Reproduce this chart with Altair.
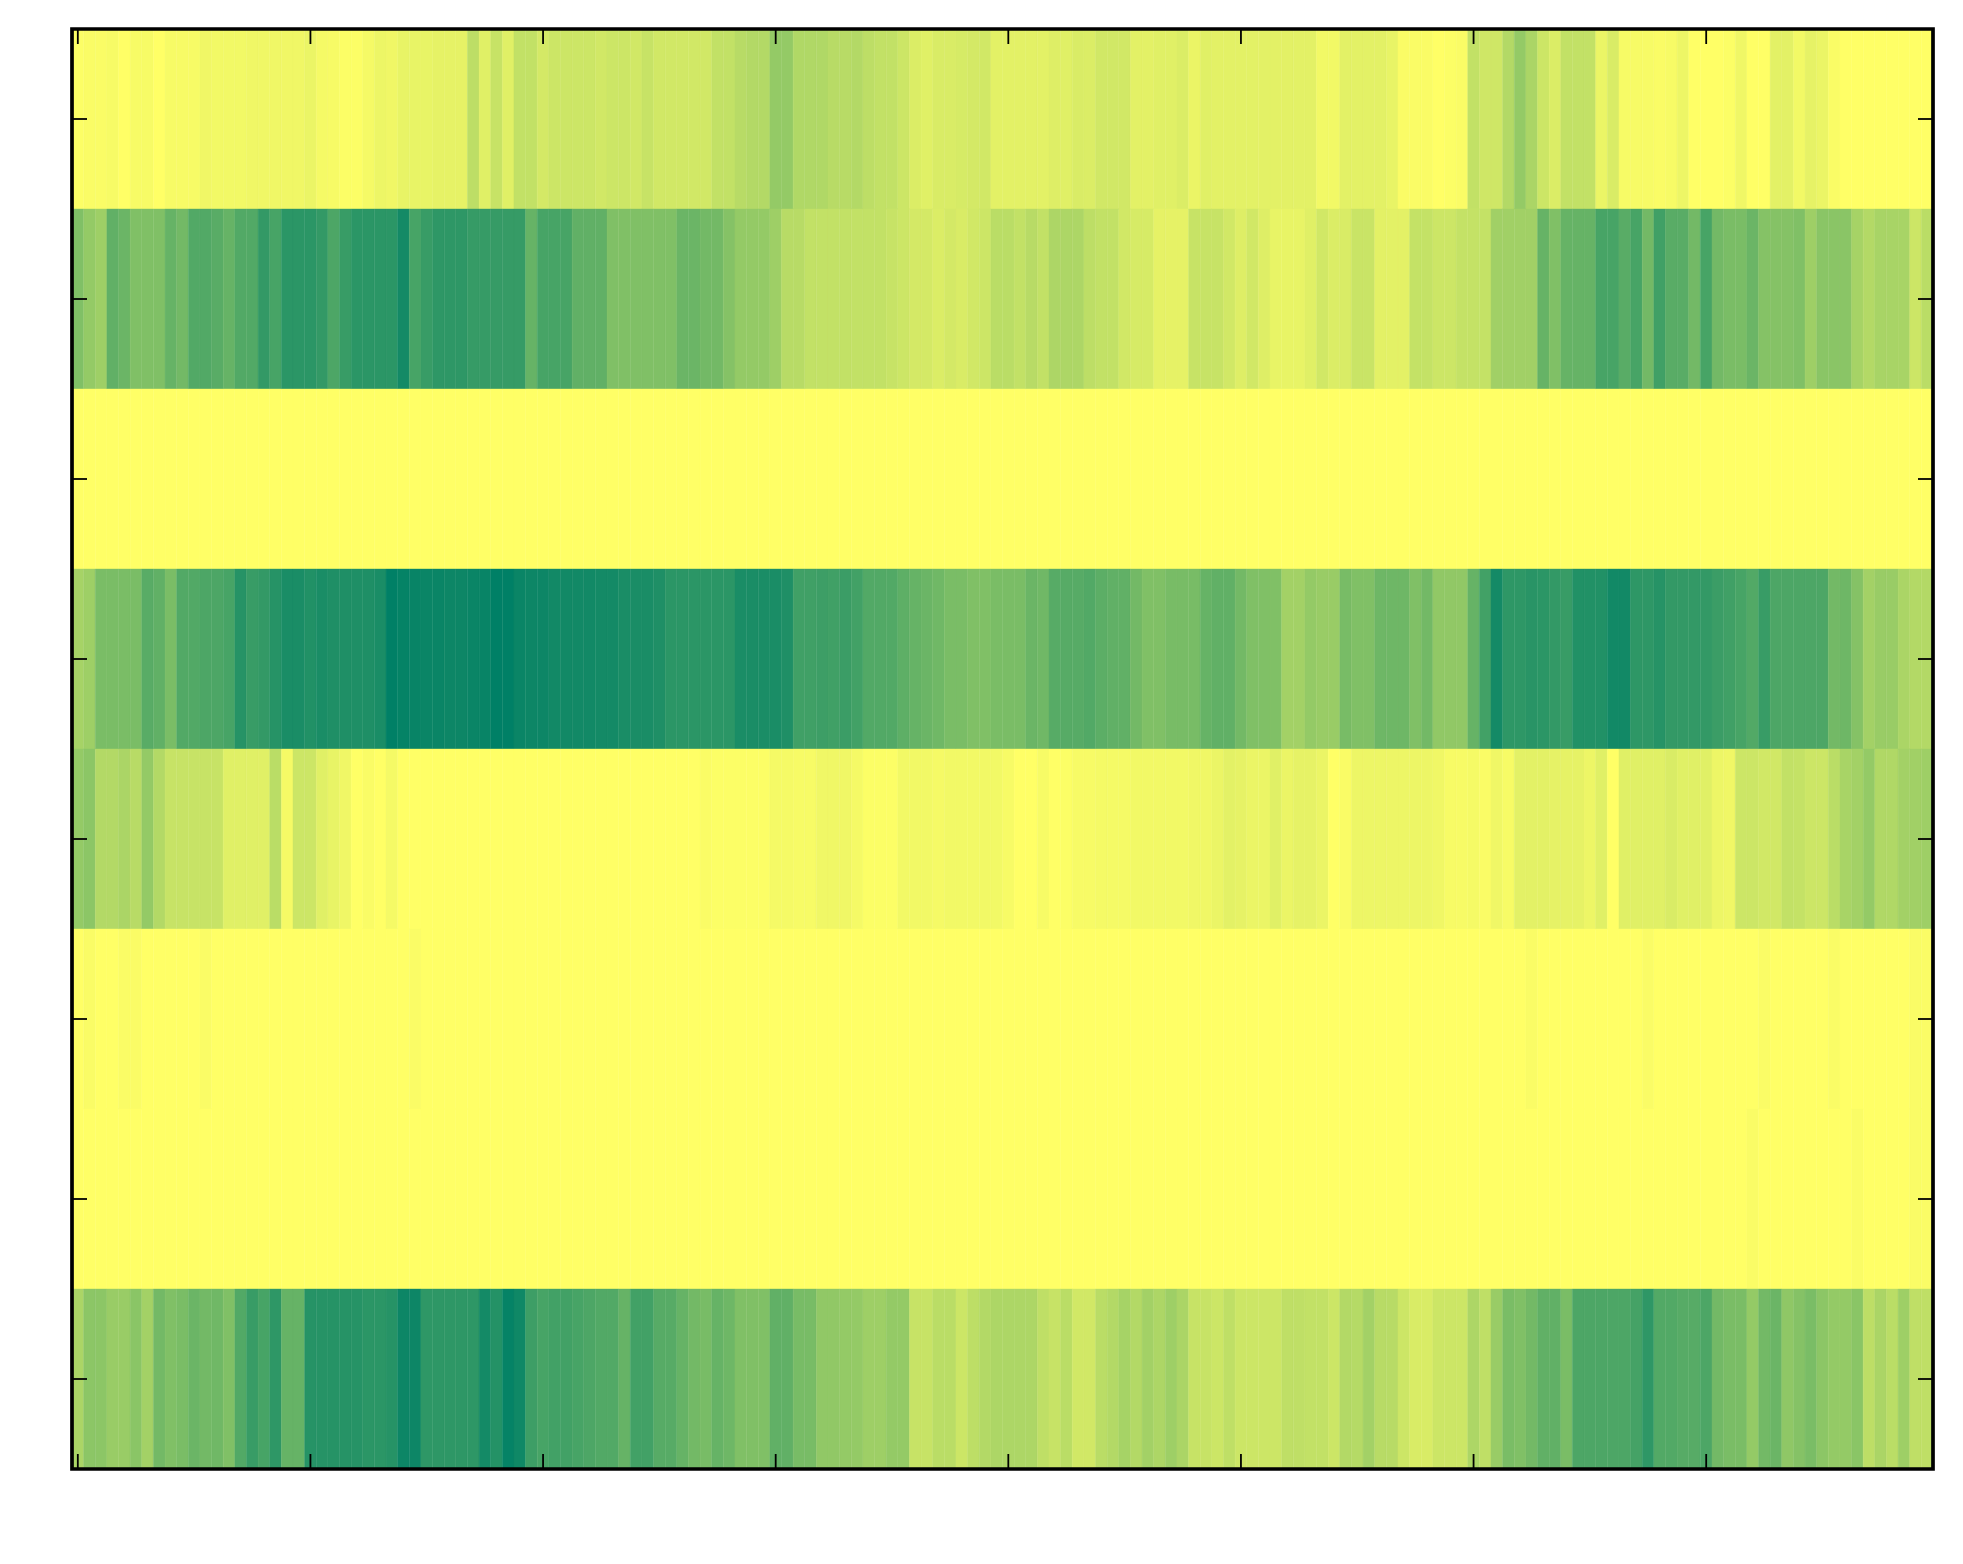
import altair as alt
import pandas as pd

W, H = 1861, 1440

row0 = [.01,.02,.02,.03,0,.03,.03,0,.03,.03,.03,.06,.05,.05,.05,.06,.06,.06,.06,.06,
        .08,.04,.03,.01,.01,.04,.07,.06,.09,.09,.09,.10,.10,.10,.26,.12,.22,.12,.24,.24,
        .17,.2,.2,.2,.2,.18,.2,.2,.18,.22,.18,.18,.18,.18,.18,.24,.24,.28,.3,.3,
        .42,.42,.31,.31,.31,.28,.28,.3,.26,.24,.24,.2,.14,.12,.15,.15,.16,.17,.18,.11,
        .11,.11,.11,.11,.13,.12,.15,.14,.18,.18,.18,.11,.11,.12,.12,.14,.08,.12,.11,.11,
        .11,.11,.11,.11,.11,.11,.11,.05,.05,.11,.11,.11,.11,.09,.02,.02,.02,0,.01,.02,
        .24,.19,.19,.3,.42,.33,.2,.14,.24,.24,.24,.08,.15,.03,.03,.03,.02,.03,.07,0,
        0,0,.01,.06,0,0,.11,.11,.05,.1,.08,.02,0,0,0,0,0,0,0,0]
row1 = [.5,.42,.38,.62,.58,.5,.5,.5,.6,.55,.68,.68,.65,.6,.68,.68,.8,.72,.83,.83,
        .83,.8,.7,.78,.83,.83,.83,.83,.92,.72,.78,.82,.82,.82,.79,.79,.79,.79,.79,.6,
        .72,.72,.72,.62,.62,.62,.5,.5,.5,.5,.5,.5,.58,.58,.55,.55,.48,.42,.42,.42,
        .38,.28,.28,.24,.24,.24,.24,.24,.24,.24,.22,.2,.17,.17,.14,.17,.15,.18,.2,.27,
        .27,.24,.28,.24,.32,.32,.32,.26,.24,.24,.18,.16,.16,.1,.1,.1,.22,.22,.22,.18,
        .13,.18,.13,.09,.09,.09,.12,.18,.14,.15,.21,.21,.11,.11,.11,.23,.23,.2,.2,.23,
        .23,.23,.37,.37,.37,.37,.6,.5,.6,.6,.6,.72,.72,.65,.72,.55,.75,.65,.65,.55,
        .72,.55,.52,.52,.58,.48,.48,.48,.5,.38,.46,.46,.46,.35,.3,.34,.34,.34,.2,.27]
row2 = [0] * 160
row3 = [.35,.38,.52,.52,.52,.52,.65,.62,.52,.68,.68,.7,.7,.72,.85,.78,.8,.85,.9,.9,
        .87,.9,.88,.88,.88,.88,.9,1,.98,.97,.96,.96,.95,.95,.96,.97,1,1,.96,.95,
        .95,.93,.93,.93,.93,.92,.92,.9,.9,.9,.88,.83,.83,.83,.83,.83,.83,.9,.9,.9,
        .9,.88,.75,.75,.76,.75,.77,.74,.68,.68,.68,.63,.6,.58,.56,.52,.52,.5,.5,.52,
        .52,.52,.58,.56,.66,.66,.66,.68,.64,.62,.62,.55,.5,.5,.53,.53,.53,.6,.62,.62,
        .55,.5,.5,.5,.36,.36,.42,.4,.4,.53,.5,.5,.57,.57,.57,.5,.55,.43,.43,.43,
        .6,.74,.92,.82,.82,.84,.83,.8,.78,.87,.87,.87,.93,.93,.82,.82,.85,.8,.8,.8,
        .8,.77,.75,.72,.68,.78,.7,.7,.7,.7,.7,.55,.57,.48,.36,.4,.4,.33,.3,.3]
row4 = [.42,.45,.3,.3,.33,.28,.42,.3,.22,.22,.22,.22,.22,.12,.12,.12,.12,.27,.04,.2,
        .2,.12,.09,.06,0,.02,0,.04,0,0,0,0,0,0,0,0,0,0,0,0,
        0,0,0,0,0,0,0,0,0,0,0,0,0,0,.02,.01,.01,.01,.01,.01,
        .04,.04,.03,.03,.06,.06,.06,.04,.01,.01,.01,.05,.05,.05,.04,.05,.05,.05,.05,.05,
        .03,0,0,.03,0,.01,.03,.03,.04,.04,.04,.05,.05,.05,.05,.05,.06,.06,.08,.11,
        .1,.08,.08,.12,.08,.1,.1,.08,0,.02,.07,.07,.07,.07,.07,.07,.07,.06,.03,.03,
        .04,.02,.06,.03,.11,.11,.11,.1,.1,.1,.07,.12,0,.12,.12,.12,.12,.15,.12,.12,
        .12,.07,.06,.2,.2,.18,.18,.24,.23,.2,.2,.27,.34,.36,.42,.31,.31,.36,.37,.38]
row5 = [0] * 160
for i in (1, 4, 5, 11, 29, 125, 135, 145, 151, 158, 159):
    row5[i] = .02
row6 = [0] * 160
for i in (144, 153, 158, 159):
    row6[i] = .02
row7 = [.33,.45,.45,.4,.4,.46,.36,.55,.5,.52,.58,.55,.56,.5,.68,.78,.72,.82,.6,.6,
        .85,.85,.85,.85,.85,.83,.83,.85,.95,.95,.82,.82,.82,.82,.82,.92,.86,.98,.94,.76,
        .72,.74,.74,.72,.7,.68,.68,.6,.74,.74,.66,.66,.6,.55,.53,.6,.57,.5,.5,.5,
        .62,.62,.53,.53,.43,.43,.42,.42,.38,.38,.42,.42,.22,.22,.27,.27,.2,.26,.3,.32,
        .32,.32,.32,.25,.22,.27,.18,.18,.27,.3,.35,.3,.36,.32,.38,.33,.22,.22,.2,.25,
        .2,.2,.2,.2,.25,.25,.24,.24,.2,.3,.29,.36,.28,.28,.2,.15,.15,.2,.2,.2,
        .32,.25,.4,.52,.5,.55,.62,.62,.52,.7,.7,.7,.7,.7,.73,.82,.68,.68,.66,.66,
        .7,.55,.52,.52,.42,.55,.58,.44,.48,.52,.45,.42,.42,.46,.26,.33,.27,.38,.25,.25]
rows = [row0, row1, row2, row3, row4, row5, row6, row7]
for r in rows:
    assert len(r) == 160

x_ticks = [0, 20, 40, 60, 80, 100, 120, 140]
y_ticks = [0, 1, 2, 3, 4, 5, 6, 7]

records = [
    {"x0": c - 0.5, "x1": c + 0.5, "y0": r - 0.5, "y1": r + 0.5, "v": v}
    for r, vals in enumerate(rows)
    for c, v in enumerate(vals)
]
df = pd.DataFrame(records)
xt = pd.DataFrame({"t": x_ticks})
yt = pd.DataFrame({"t": y_ticks})

x_scale = alt.Scale(domain=[-0.5, 159.5], nice=False, zero=False)
y_scale = alt.Scale(domain=[7.5, -0.5], nice=False, zero=False)
color_scale = alt.Scale(domain=[0, 1], range=["#ffff66", "#008066"], interpolate="rgb")

label_font = dict(labelFont="DejaVu Sans", labelFontSize=50, labelColor="black",
                  ticks=False, domain=False, grid=False, title=None)

cells = alt.Chart(df).mark_rect(strokeWidth=0.4).encode(
    x=alt.X("x0:Q", scale=x_scale,
            axis=alt.Axis(values=x_ticks, labelPadding=12, format="d", labelFlush=False, **label_font)),
    x2="x1:Q",
    y=alt.Y("y0:Q", scale=y_scale,
            axis=alt.Axis(values=y_ticks, labelPadding=14, format="d", **label_font)),
    y2="y1:Q",
    fill=alt.Fill("v:Q", scale=color_scale, legend=None),
    stroke=alt.Stroke("v:Q", scale=color_scale, legend=None),
)

TICK = 15
tick_style = dict(color="black", strokeWidth=1.8)
x_enc = alt.X("t:Q", scale=x_scale, axis=None)
y_enc = alt.Y("t:Q", scale=y_scale, axis=None)
ticks_bottom = alt.Chart(xt).mark_rule(**tick_style).encode(x=x_enc, y=alt.value(H), y2=alt.value(H - TICK))
ticks_top = alt.Chart(xt).mark_rule(**tick_style).encode(x=x_enc, y=alt.value(0), y2=alt.value(TICK))
ticks_left = alt.Chart(yt).mark_rule(**tick_style).encode(y=y_enc, x=alt.value(0), x2=alt.value(TICK))
ticks_right = alt.Chart(yt).mark_rule(**tick_style).encode(y=y_enc, x=alt.value(W), x2=alt.value(W - TICK))

frame = alt.Chart(pd.DataFrame({"a": [0]})).mark_rect(
    fillOpacity=0, stroke="black", strokeWidth=3.7
).encode(x=alt.value(0), x2=alt.value(W), y=alt.value(0), y2=alt.value(H))

chart = alt.layer(cells, ticks_bottom, ticks_top, ticks_left, ticks_right, frame).properties(
    width=W,
    height=H,
    autosize=alt.AutoSizeParams(type="none"),
    padding={"left": 64, "top": 21, "right": 20, "bottom": 80},
).configure_view(stroke=None)

chart.save("out.html", embed_options={"renderer": "svg", "actions": False})
